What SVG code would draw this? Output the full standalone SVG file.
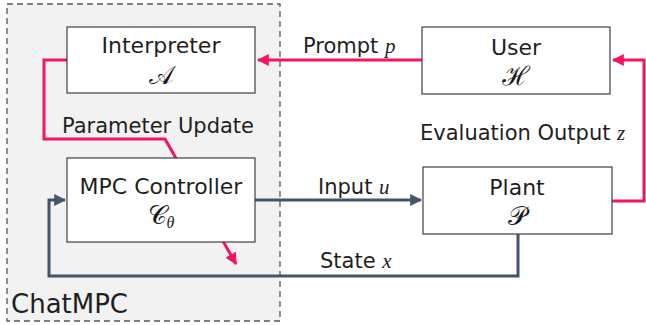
<svg xmlns="http://www.w3.org/2000/svg" width="646" height="325" viewBox="0 0 646 325">
<defs>
<style>
.box{fill:#fff;stroke:#404040;stroke-width:1.2}
.lbl{font-family:"DejaVu Sans","Liberation Sans",sans-serif;fill:#1f1f1f}
.node{font-size:22px;text-anchor:middle}
.edge{font-size:21px}
.math{font-family:"Liberation Serif","DejaVu Serif",serif;font-style:italic}
.scr{font-family:"DejaVu Serif","Noto Sans","DejaVu Sans",serif;font-size:26px;text-anchor:middle;fill:#1a1a1a}
.red{fill:none;stroke:#F5145F;stroke-width:3}
.blue{fill:none;stroke:#44546A;stroke-width:3}
</style>
<marker id="ar" viewBox="0 0 10 10" refX="9" refY="5" markerWidth="4" markerHeight="4" orient="auto" markerUnits="strokeWidth"><path d="M0,0 L10,5 L0,10 z" fill="#F5145F"/></marker>
<marker id="ab" viewBox="0 0 10 10" refX="9" refY="5" markerWidth="4" markerHeight="4" orient="auto" markerUnits="strokeWidth"><path d="M0,0 L10,5 L0,10 z" fill="#44546A"/></marker>
</defs>
<g id="chatmpc">
<rect x="7" y="4" width="273" height="317" fill="#F2F2F2" stroke="#595959" stroke-width="1.3" stroke-dasharray="6,4"/>
<text class="lbl" x="11" y="313" font-size="26">ChatMPC</text>
</g>
<g id="connectors">
<path class="red" d="M422,60 H258" marker-end="url(#ar)"/>
<path class="red" d="M612,201 H644 V60 H613" marker-end="url(#ar)"/>
<path class="red" d="M67,60 H44 V139 H165 L236,264" marker-end="url(#ar)"/>
<path class="blue" d="M255,200 H421" marker-end="url(#ab)"/>
<path class="blue" d="M518,234 V276 H49 V200 H65" marker-end="url(#ab)"/>
<text class="lbl edge" x="303" y="53">Prompt <tspan class="math">p</tspan></text>
<text class="lbl edge" x="420" y="140">Evaluation Output <tspan class="math">z</tspan></text>
<text class="lbl edge" x="318" y="194">Input <tspan class="math">u</tspan></text>
<text class="lbl edge" x="320" y="268">State <tspan class="math">x</tspan></text>
<text class="lbl edge" x="62" y="133">Parameter Update</text>
</g>
<g id="interpreter">
<rect class="box" x="67" y="27" width="188" height="66"/>
<text class="lbl node" x="161" y="53">Interpreter</text>
<text class="scr" x="161" y="84">𝒜</text>
</g>
<g id="mpc">
<rect class="box" x="67" y="158" width="188" height="84"/>
<text class="lbl node" x="161" y="194">MPC Controller</text>
<text class="scr" x="161" y="224">𝒞<tspan font-size="16" dy="4" class="math">θ</tspan></text>
</g>
<g id="user">
<rect class="box" x="422" y="27" width="188" height="67"/>
<text class="lbl node" x="516" y="55">User</text>
<text class="scr" x="516" y="85">ℋ</text>
</g>
<g id="plant">
<rect class="box" x="423" y="167" width="189" height="67"/>
<text class="lbl node" x="517" y="195">Plant</text>
<text class="scr" x="517" y="225">𝒫</text>
</g>
</svg>
